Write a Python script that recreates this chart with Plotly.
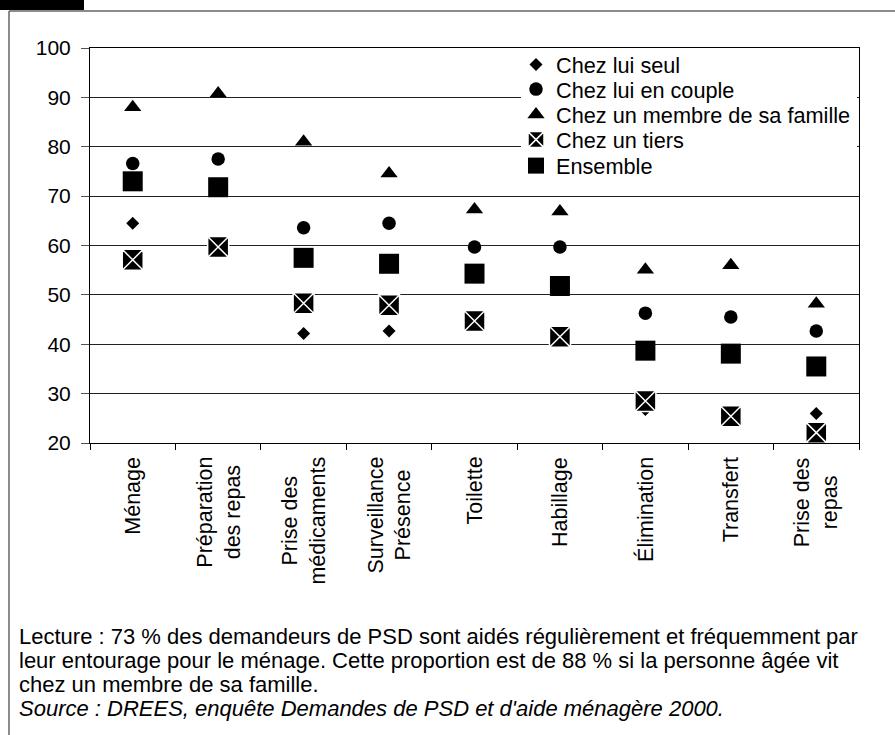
import plotly.graph_objects as go

# Activities (x axis) and share of PSD applicants helped, by living arrangement (%)
categories = [
    "Ménage",
    "Préparation<br>des repas",
    "Prise des<br>médicaments",
    "Surveillance<br>Présence",
    "Toilette",
    "Habillage",
    "Élimination",
    "Transfert",
    "Prise des<br>repas",
]

chez_lui_seul = [64.5, 60.0, 42.2, 42.7, 45.3, 41.5, 26.8, 26.2, 26.0]
chez_lui_en_couple = [76.6, 77.5, 63.6, 64.5, 59.7, 59.7, 46.3, 45.5, 42.7]
chez_membre_famille = [88.0, 90.8, 81.0, 74.6, 67.3, 66.9, 55.1, 56.0, 48.2]
chez_un_tiers = [57.1, 59.7, 48.3, 47.9, 44.7, 41.5, 28.5, 25.4, 22.1]
ensemble = [73.0, 71.8, 57.5, 56.3, 54.3, 51.8, 38.7, 38.1, 35.5]

series_names = [
    "Chez lui seul",
    "Chez lui en couple",
    "Chez un membre de sa famille",
    "Chez un tiers",
    "Ensemble",
]
series_values = [chez_lui_seul, chez_lui_en_couple, chez_membre_famille,
                 chez_un_tiers, ensemble]

y_ticks = [20, 30, 40, 50, 60, 70, 80, 90, 100]

notes = [
    "Lecture : 73 % des demandeurs de PSD sont aidés régulièrement et fréquemment par",
    "leur entourage pour le ménage. Cette proportion est de 88 % si la personne âgée vit",
    "chez un membre de sa famille.",
    "<i>Source : DREES, enquête Demandes de PSD et d'aide ménagère 2000.</i>",
]

# ---- page geometry (pixels) ----
W, H = 895, 735
L, R, T, B = 90, 859, 48, 443
PW, PH = R - L, B - T
FONT = "Liberation Sans, Arial, Helvetica, sans-serif"


def px_x(px):
    return (px - L) / PW


def px_y(py):
    return (B - py) / PH


marker_styles = [
    dict(symbol="diamond", size=10, color="black"),
    dict(symbol="circle", size=13.5, color="black"),
    dict(symbol="triangle-up", size=15, color="black"),
    dict(symbol="square-x", size=21, color="black",
         line=dict(color="white", width=1.5)),
    dict(symbol="square", size=20, color="black"),
]

legend_ids = ["legend", "legend2", "legend3", "legend4", "legend5"]
legend_rows = [65, 89.5, 115, 140, 166]

fig = go.Figure()
for name, vals, style, lid in zip(series_names, series_values, marker_styles, legend_ids):
    fig.add_trace(go.Scatter(
        x=categories, y=vals, name=name, mode="markers",
        marker=style, legend=lid, cliponaxis=False,
        hovertemplate="%{y}<extra>" + name + "</extra>",
    ))

legends = {}
for lid, row in zip(legend_ids, legend_rows):
    legends[lid] = dict(
        x=px_x(516), xanchor="left", y=px_y(row), yanchor="middle",
        bgcolor="rgba(0,0,0,0)", borderwidth=0,
        font=dict(family=FONT, size=21.7, color="black"),
    )

shapes = [
    # dark tab in the upper-left corner
    dict(type="rect", xref="paper", yref="paper",
         x0=px_x(0), x1=px_x(84), y0=px_y(0), y1=px_y(10),
         fillcolor="black", line=dict(width=0)),
    # frame lines
    dict(type="line", xref="paper", yref="paper",
         x0=px_x(9), x1=px_x(895), y0=px_y(11), y1=px_y(11),
         line=dict(color="#666666", width=1.5)),
    dict(type="line", xref="paper", yref="paper",
         x0=px_x(9), x1=px_x(9), y0=px_y(11), y1=px_y(735),
         line=dict(color="#666666", width=1.5)),
    # white panel behind the legend entries, masking the grid
    dict(type="rect", xref="paper", yref="paper", layer="above",
         x0=px_x(521), x1=px_x(857), y0=px_y(53), y1=px_y(180),
         fillcolor="white", line=dict(width=0)),
]

annotations = []
# category labels, rotated, lines centred on each other
for cat in categories:
    annotations.append(dict(
        text=cat, xref="x", x=cat, yref="paper", y=px_y(455),
        xanchor="center", yanchor="top", textangle=-90, align="center",
        showarrow=False, font=dict(family=FONT, size=21.5, color="black"),
    ))
# reading note and source
for i, txt in enumerate(notes):
    annotations.append(dict(
        text=txt, xref="paper", yref="paper", x=px_x(17), y=px_y(636 + 24 * i),
        xanchor="left", yanchor="middle", showarrow=False, align="left",
        font=dict(family=FONT, size=22, color="black"),
    ))

fig.update_layout(
    width=W, height=H,
    margin=dict(l=L, r=W - R, t=T, b=H - B, pad=0),
    paper_bgcolor="white", plot_bgcolor="white",
    font=dict(family=FONT, size=21, color="black"),
    showlegend=True,
    shapes=shapes,
    annotations=annotations,
    xaxis=dict(
        type="category", categoryorder="array", categoryarray=categories,
        range=[-0.5, len(categories) - 0.5],
        tickson="boundaries", ticks="outside", ticklen=6, tickwidth=1,
        tickcolor="black", showticklabels=False,
        showline=True, linecolor="black", linewidth=1, mirror=True,
        showgrid=False, zeroline=False, fixedrange=True,
    ),
    xaxis2=dict(
        overlaying="x", anchor="y", side="bottom",
        range=[-0.5, len(categories) - 0.5],
        tickmode="array",
        tickvals=[i + 0.5 for i in range(len(categories) - 1)],
        ticks="inside", ticklen=6, tickwidth=1, tickcolor="black",
        showticklabels=False, showgrid=False, showline=False, zeroline=False,
        fixedrange=True,
    ),
    yaxis=dict(
        range=[20, 100], tickmode="array", tickvals=y_ticks,
        ticks="outside", ticklen=8, tickwidth=1, tickcolor="#555555",
        tickfont=dict(family=FONT, size=21, color="black"),
        ticklabelstandoff=6,
        showgrid=True, gridcolor="#222222", gridwidth=1,
        showline=True, linecolor="black", linewidth=1, mirror=True,
        zeroline=False, fixedrange=True,
    ),
    **legends,
)

fig.write_html("out.html")
